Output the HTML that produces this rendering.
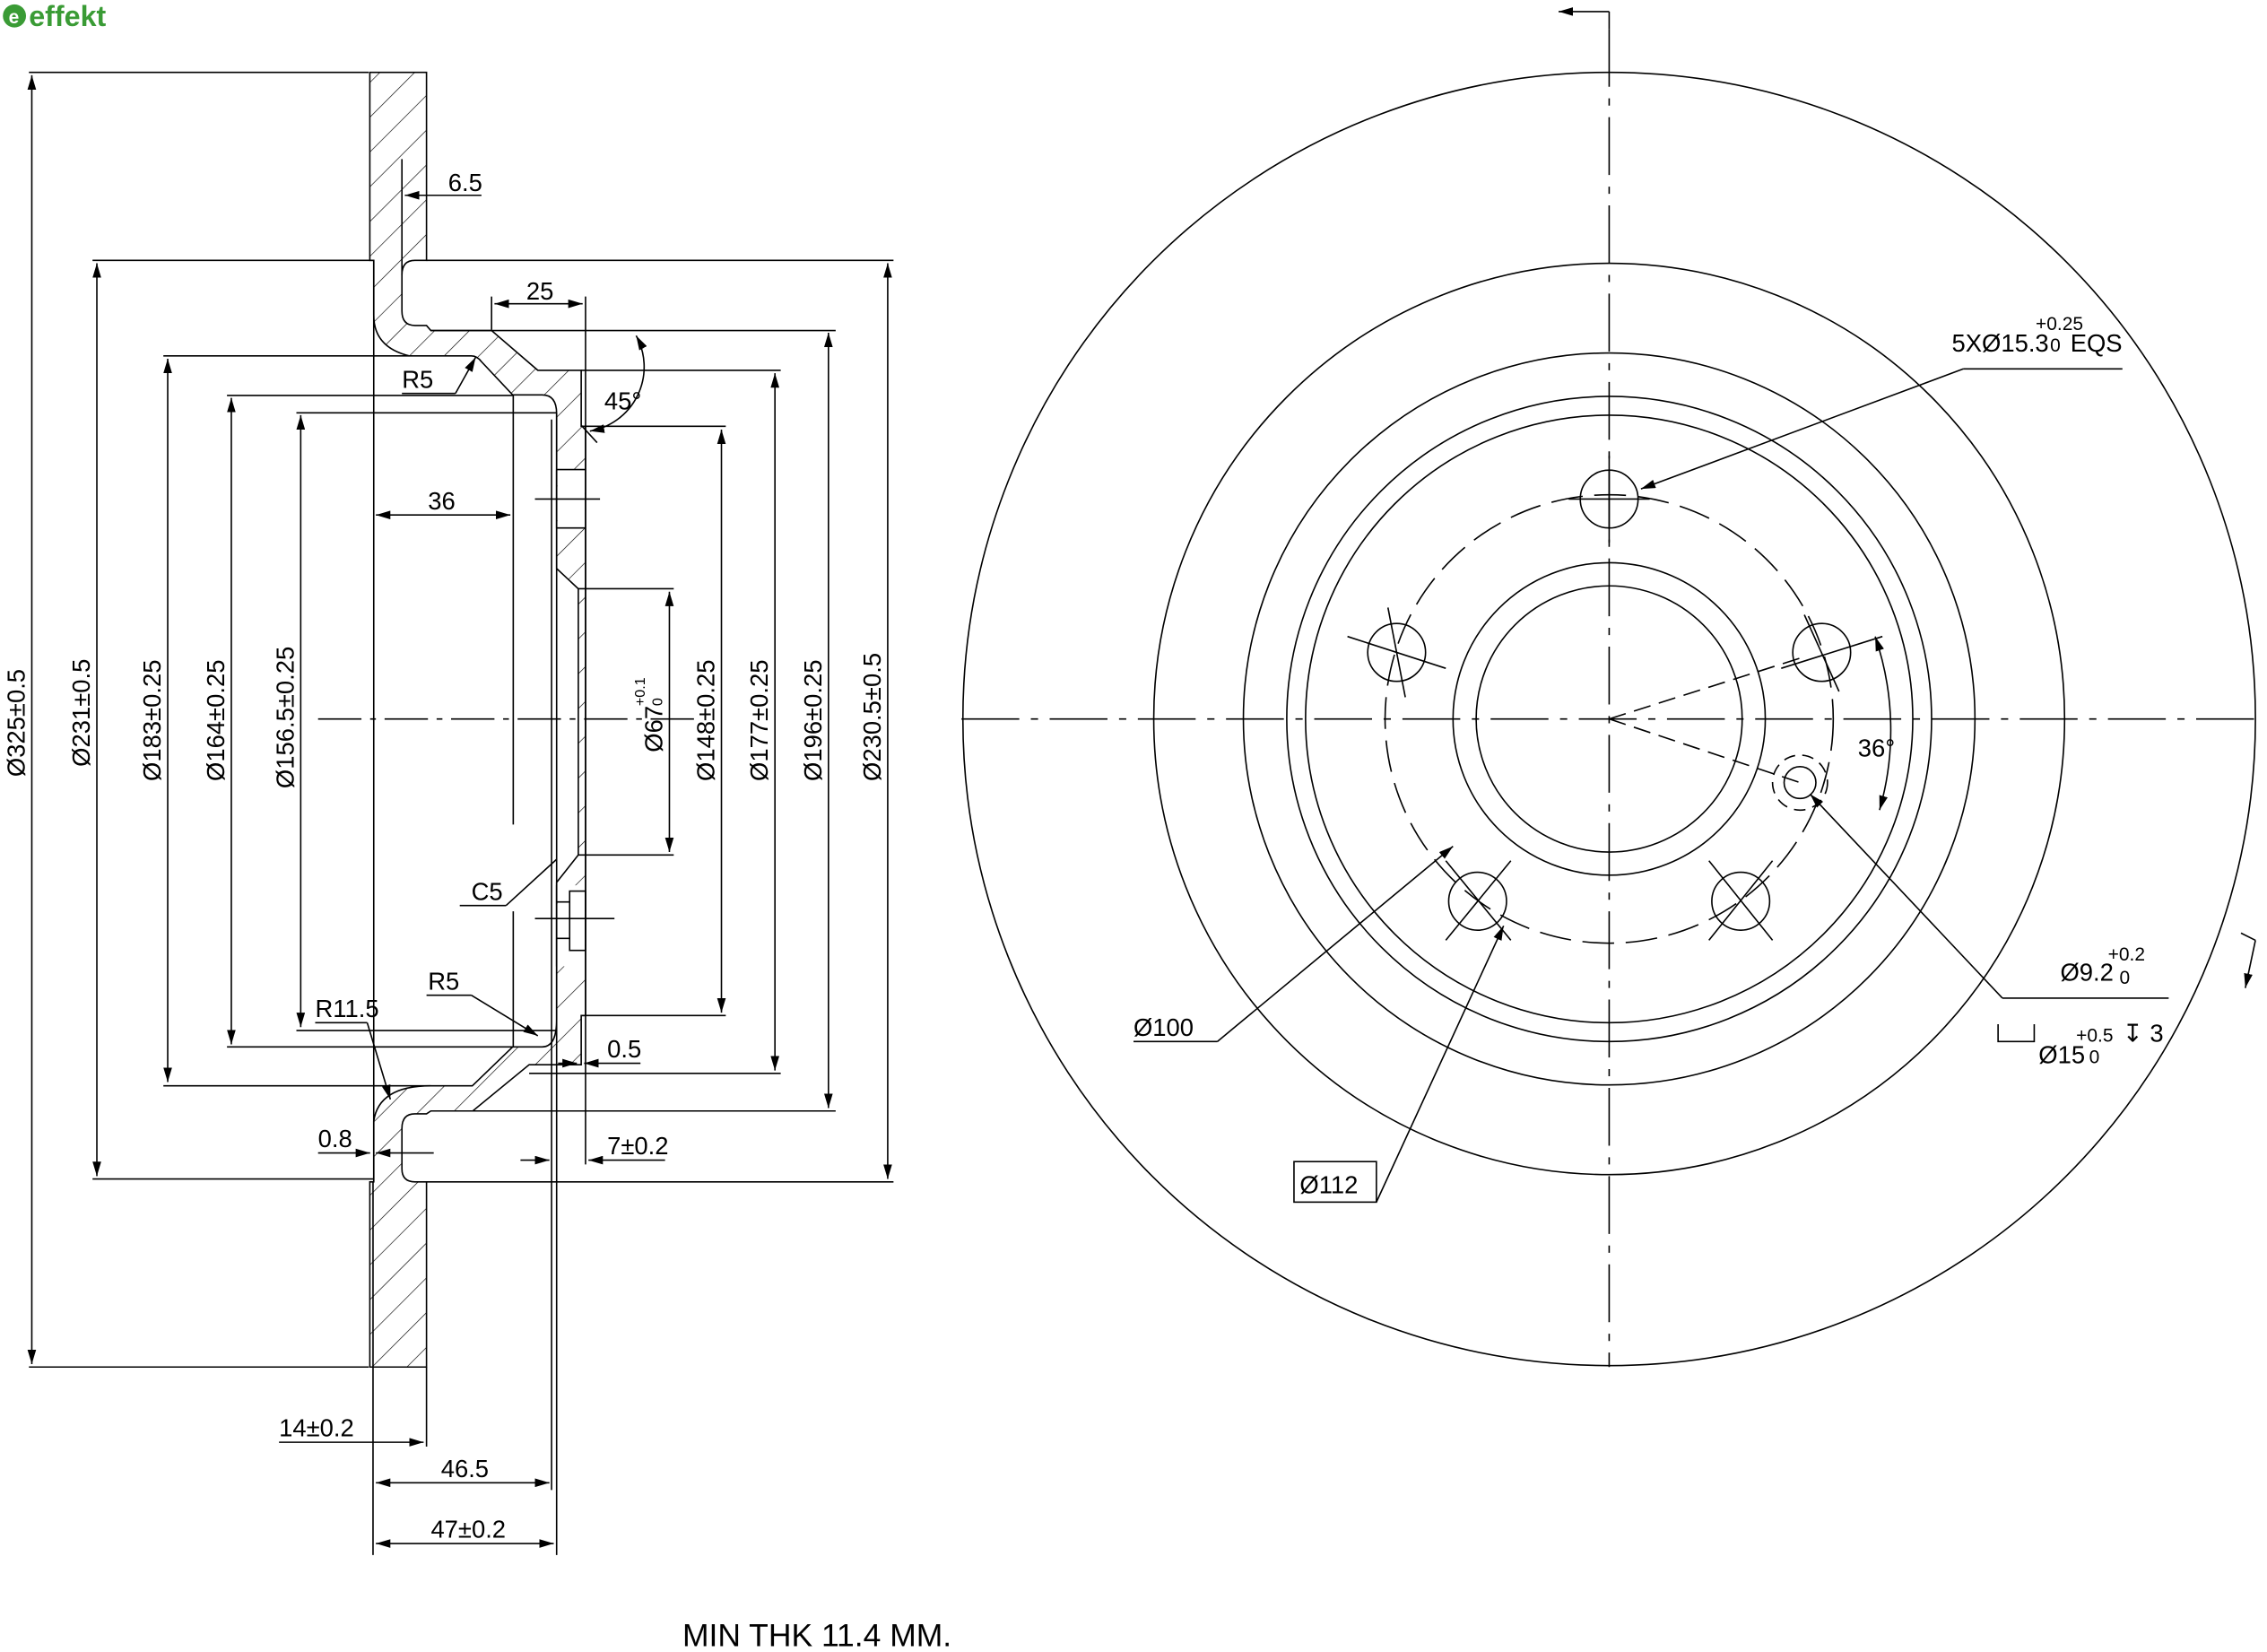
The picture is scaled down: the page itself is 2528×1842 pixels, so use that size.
<!DOCTYPE html>
<html><head><meta charset="utf-8"><style>
html,body{margin:0;padding:0;background:#fff;}
svg{display:block;}
text{font-family:"Liberation Sans",sans-serif;fill:#000;}
</style></head><body>
<svg width="2528" height="1842" viewBox="0 0 1568 1142" preserveAspectRatio="none" xmlns="http://www.w3.org/2000/svg">
<defs>
<pattern id="h" width="17" height="17" patternUnits="userSpaceOnUse" patternTransform="rotate(45)">
<line x1="0" y1="0" x2="0" y2="17" stroke="#000" stroke-width="0.8"/></pattern>
<marker id="a" markerWidth="10" markerHeight="6" refX="10" refY="3" orient="auto-start-reverse" markerUnits="userSpaceOnUse"><path d="M0,0 L10,3 L0,6 z" fill="#000"/></marker>
</defs>
<rect width="1568" height="1142" fill="#fff"/>
<circle cx="10" cy="11" r="8" fill="#3a9b35"/>
<text x="6" y="16" font-size="13" font-weight="bold" style="fill:#fff">e</text>
<text x="20" y="18" font-size="20" font-weight="bold" style="fill:#3a9b35">effekt</text>

<g stroke="#000" stroke-width="1" fill="none">
<path d="M255.8,50 H295 V180 H287 Q278,180 278,190 V215 Q278,225 287,225 H295 L298,228.5 H340 L372,256 H402 V294.7 H405 V702 H402 V736 H366 L327,768 H298 L295,770 H287 Q278,770 278,780 V808 Q278,817 287,817 H295 V945 H255.8 V817 H258.5 V775 Q262,750.6 298,750.6 H326.7 L354.6,723.7 H375 Q385,723.7 385,705 V610 L400,591 V407 L385,393 V286 Q385,273 375,273 H354.6 L333,250 Q330,246 326,246 H283 Q258.5,240 258.5,218 V180 H255.8 Z" fill="url(#h)"/>
<rect x="385.6" y="324.6" width="18.8" height="40.4" fill="#fff" stroke="none"/>
<rect x="385.6" y="612" width="18.8" height="56" fill="#fff" stroke="none"/>
<line x1="385" y1="324.6" x2="405" y2="324.6"/>
<line x1="385" y1="365" x2="405" y2="365"/>
<rect x="394" y="616" width="11" height="41"/>
<line x1="385" y1="623.5" x2="394" y2="623.5"/>
<line x1="385" y1="648.7" x2="394" y2="648.7"/>
<line x1="385" y1="612" x2="385" y2="668"/>
<line x1="385" y1="325" x2="385" y2="365"/>
<line x1="258.5" y1="180" x2="258.5" y2="817"/>
<line x1="295" y1="180" x2="618" y2="180"/>
<line x1="295" y1="817" x2="618" y2="817"/>
<line x1="20" y1="50" x2="255" y2="50"/>
<line x1="20" y1="945" x2="255" y2="945"/>
<line x1="64" y1="180" x2="258" y2="180"/>
<line x1="64" y1="815" x2="258" y2="815"/>
<line x1="113" y1="246" x2="283" y2="246"/>
<line x1="113" y1="750.6" x2="298" y2="750.6"/>
<line x1="157" y1="273.4" x2="355" y2="273.4"/>
<line x1="157" y1="723.7" x2="355" y2="723.7"/>
<line x1="205" y1="285.4" x2="385" y2="285.4"/>
<line x1="205" y1="712.4" x2="385" y2="712.4"/>
<line x1="402" y1="294.7" x2="502" y2="294.7"/>
<line x1="402" y1="702" x2="502" y2="702"/>
<line x1="298" y1="228.5" x2="578" y2="228.5"/>
<line x1="298" y1="768" x2="578" y2="768"/>
<line x1="402" y1="256" x2="540" y2="256"/>
<line x1="366" y1="742" x2="540" y2="742"/>
<line x1="400" y1="407" x2="466" y2="407"/>
<line x1="400" y1="591" x2="466" y2="591"/>
<line x1="355" y1="273" x2="355" y2="570"/>
<line x1="355" y1="630" x2="355" y2="724"/>
<line x1="385" y1="286" x2="385" y2="1075"/>
<line x1="381.5" y1="290" x2="381.5" y2="1030"/>
<line x1="405" y1="205" x2="405" y2="805"/>
<line x1="340" y1="205" x2="340" y2="228"/>
<line x1="258" y1="817" x2="258" y2="1075"/>
<line x1="295" y1="945" x2="295" y2="1000"/>
<line x1="370" y1="345" x2="415" y2="345"/>
<line x1="370" y1="635" x2="425" y2="635"/>
<line x1="220" y1="497" x2="480" y2="497" stroke-dasharray="30,6,4,6"/>
<g marker-start="url(#a)" marker-end="url(#a)">
<line x1="22" y1="52" x2="22" y2="943"/>
<line x1="67" y1="182" x2="67" y2="813"/>
<line x1="116" y1="248" x2="116" y2="748"/>
<line x1="160" y1="275" x2="160" y2="722"/>
<line x1="208" y1="287" x2="208" y2="710"/>
<line x1="463" y1="409" x2="463" y2="589"/>
<line x1="499" y1="297" x2="499" y2="700"/>
<line x1="536" y1="258" x2="536" y2="740"/>
<line x1="573" y1="230" x2="573" y2="766"/>
<line x1="614" y1="182" x2="614" y2="815"/>
<line x1="342" y1="210" x2="403" y2="210"/>
<line x1="260" y1="356" x2="353" y2="356"/>
<line x1="260" y1="1025" x2="380" y2="1025"/>
<line x1="260" y1="1067" x2="383" y2="1067"/>
</g>
<line x1="193" y1="997" x2="293" y2="997" marker-end="url(#a)"/>
<line x1="295" y1="135" x2="333" y2="135"/><line x1="300" y1="135" x2="280" y2="135" marker-end="url(#a)"/>
<line x1="278" y1="110" x2="278" y2="190"/>
<line x1="220" y1="797" x2="256" y2="797" marker-end="url(#a)"/>
<line x1="300" y1="797" x2="260" y2="797" marker-end="url(#a)"/>
<line x1="360" y1="802" x2="380" y2="802" marker-end="url(#a)"/>
<line x1="460" y1="802" x2="407" y2="802" marker-end="url(#a)"/>
<line x1="443" y1="735" x2="404" y2="735" marker-end="url(#a)"/>
<line x1="386" y1="735" x2="399" y2="735" marker-end="url(#a)"/>
<line x1="318" y1="626" x2="350" y2="626"/><line x1="350" y1="626" x2="385" y2="594"/>
<line x1="278" y1="272" x2="315" y2="272"/><line x1="315" y1="272" x2="329" y2="247" marker-end="url(#a)"/>
<line x1="295" y1="688" x2="326" y2="688"/><line x1="326" y1="688" x2="372" y2="716" marker-end="url(#a)"/>
<line x1="218" y1="707" x2="254" y2="707"/><line x1="254" y1="707" x2="270" y2="760" marker-end="url(#a)"/>
<path d="M408,298 A45,45 0 0 0 440,232" marker-start="url(#a)" marker-end="url(#a)"/>
<line x1="402" y1="294" x2="413" y2="306"/>
<circle cx="1113" cy="497" r="447"/>
<circle cx="1113" cy="497" r="315"/>
<circle cx="1113" cy="497" r="253"/>
<circle cx="1113" cy="497" r="223"/>
<circle cx="1113" cy="497" r="210"/>
<circle cx="1113" cy="497" r="155" stroke-dasharray="22,8"/>
<circle cx="1113" cy="497" r="108"/>
<circle cx="1113" cy="497" r="92"/>
<circle cx="1113" cy="345" r="20"/>
<circle cx="966" cy="451" r="20"/>
<circle cx="1260" cy="451" r="20"/>
<circle cx="1022" cy="623" r="20"/>
<circle cx="1204" cy="623" r="20"/>
<circle cx="1245" cy="541" r="11"/>
<circle cx="1245" cy="541" r="19" stroke-dasharray="8,5"/>
<line x1="1113" y1="315" x2="1113" y2="375"/><line x1="1085" y1="345" x2="1141" y2="345"/>
<line x1="932" y1="440" x2="1000" y2="462"/><line x1="960" y1="420" x2="972" y2="482"/>
<line x1="1232" y1="462" x2="1302" y2="440"/><line x1="1248" y1="425" x2="1272" y2="478"/>
<line x1="1000" y1="595" x2="1045" y2="650"/><line x1="1045" y1="595" x2="1000" y2="650"/>
<line x1="1226" y1="595" x2="1182" y2="650"/><line x1="1182" y1="595" x2="1226" y2="650"/>
<line x1="665" y1="497" x2="1562" y2="497" stroke-dasharray="40,8,5,8"/>
<line x1="1113" y1="20" x2="1113" y2="945" stroke-dasharray="40,8,5,8"/>
<line x1="1113" y1="20" x2="1113" y2="8"/><line x1="1113" y1="8" x2="1078" y2="8" marker-end="url(#a)"/>
<line x1="1113" y1="497" x2="1245" y2="455" stroke-dasharray="12,6"/>
<line x1="1113" y1="497" x2="1245" y2="541" stroke-dasharray="12,6"/>
<path d="M1297,440 A200,200 0 0 1 1300,560" marker-start="url(#a)" marker-end="url(#a)"/>
<line x1="1468" y1="255" x2="1358" y2="255"/><line x1="1358" y1="255" x2="1135" y2="338" marker-end="url(#a)"/>
<line x1="1500" y1="690" x2="1385" y2="690"/><line x1="1385" y1="690" x2="1252" y2="549" marker-end="url(#a)"/>
<line x1="784" y1="720" x2="842" y2="720"/><line x1="842" y1="720" x2="1005" y2="585" marker-end="url(#a)"/>
<rect x="895" y="803" width="57" height="28"/>
<line x1="952" y1="831" x2="1040" y2="640" marker-end="url(#a)"/>
<path d="M1382,708 V720 H1407 V708"/>
<line x1="1550" y1="645" x2="1560" y2="650"/><line x1="1560" y1="650" x2="1553" y2="683" marker-end="url(#a)"/>
</g>

<g font-size="17">
<text x="310" y="132">6.5</text>
<text x="364" y="207">25</text>
<text x="418" y="283">45°</text>
<text x="278" y="268">R5</text>
<text x="296" y="352">36</text>
<text x="326" y="622">C5</text>
<text x="296" y="684">R5</text>
<text x="218" y="703">R11.5</text>
<text x="420" y="731">0.5</text>
<text x="220" y="793">0.8</text>
<text x="420" y="798">7±0.2</text>
<text x="193" y="993">14±0.2</text>
<text x="305" y="1021">46.5</text>
<text x="298" y="1063">47±0.2</text>
<text x="472" y="1138" font-size="22">MIN  THK  11.4  MM.</text>
<text x="1350" y="243">5XØ15.3</text>
<text x="1408" y="228" font-size="13">+0.25</text>
<text x="1418" y="243" font-size="13">0</text>
<text x="1432" y="243">EQS</text>
<text x="1285" y="523">36°</text>
<text x="1425" y="678">Ø9.2</text>
<text x="1458" y="664" font-size="13">+0.2</text>
<text x="1466" y="680" font-size="13">0</text>
<text x="1410" y="735">Ø15</text>
<text x="1436" y="720" font-size="13">+0.5</text>
<text x="1445" y="735" font-size="13">0</text>
<text x="1468" y="720">↧  3</text>
<text x="784" y="716">Ø100</text>
<text x="899" y="825">Ø112</text>
</g>
<g font-size="17">
<text transform="translate(17,537) rotate(-90)">Ø325±0.5</text>
<text transform="translate(62,530) rotate(-90)">Ø231±0.5</text>
<text transform="translate(111,540) rotate(-90)">Ø183±0.25</text>
<text transform="translate(155,540) rotate(-90)">Ø164±0.25</text>
<text transform="translate(203,545) rotate(-90)">Ø156.5±0.25</text>
<text transform="translate(458,520) rotate(-90)">Ø67</text>
<text transform="translate(446,488) rotate(-90)" font-size="10">+0.1</text>
<text transform="translate(458,488) rotate(-90)" font-size="10">0</text>
<text transform="translate(494,540) rotate(-90)">Ø148±0.25</text>
<text transform="translate(531,540) rotate(-90)">Ø177±0.25</text>
<text transform="translate(568,540) rotate(-90)">Ø196±0.25</text>
<text transform="translate(609,540) rotate(-90)">Ø230.5±0.5</text>
</g>
</svg>
</body></html>
